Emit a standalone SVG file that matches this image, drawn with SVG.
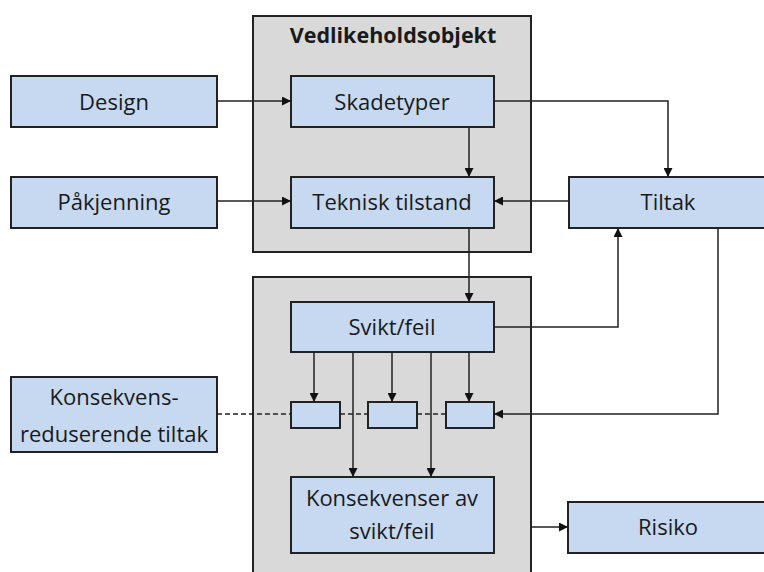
<svg xmlns="http://www.w3.org/2000/svg" width="764" height="572" viewBox="0 0 764 572">
<defs>
<marker id="ah" viewBox="0 0 10 10" refX="10" refY="5" markerWidth="9" markerHeight="9" markerUnits="userSpaceOnUse" orient="auto">
<path d="M0,0 L10,5 L0,10 z" fill="#111"/>
</marker>
<style>
.grp{fill:#d9d9d9;stroke:#222;stroke-width:2}
.nd{fill:#c6d9f1;stroke:#222;stroke-width:2}
.t{font-family:"Open Sans","Liberation Sans",sans-serif;font-size:22px;fill:#1a1a1a;text-anchor:middle}
.tb{font-weight:bold;font-size:21.5px}
.c{fill:none;stroke:#222;stroke-width:1.5}
.ca{marker-end:url(#ah)}
.d{stroke-dasharray:5,3}
</style>
</defs>
<g id="vedlikeholdsobjekt">
<rect class="grp" x="253" y="16" width="278" height="236"/>
<text class="t tb" x="393" y="43">Vedlikeholdsobjekt</text>
</g>
<g id="group2">
<rect class="grp" x="253" y="277" width="278" height="310"/>
</g>
<g id="design"><rect class="nd" x="11" y="76" width="206" height="51"/><text class="t" x="114" y="110">Design</text></g>
<g id="pakjenning"><rect class="nd" x="11" y="177" width="206" height="51"/><text class="t" x="114" y="210">Påkjenning</text></g>
<g id="skadetyper"><rect class="nd" x="291" y="76" width="203" height="51"/><text class="t" x="392" y="110">Skadetyper</text></g>
<g id="teknisk"><rect class="nd" x="291" y="177" width="203" height="51"/><text class="t" x="392" y="210">Teknisk tilstand</text></g>
<g id="tiltak"><rect class="nd" x="569" y="177" width="205" height="51"/><text class="t" x="668" y="210">Tiltak</text></g>
<g id="svikt"><rect class="nd" x="291" y="302" width="203" height="50"/><text class="t" x="392" y="335">Svikt/feil</text></g>
<g id="kons-tiltak"><rect class="nd" x="11" y="377" width="206" height="75"/><text class="t" x="114" y="405">Konsekvens-</text><text class="t" x="114" y="442">reduserende tiltak</text></g>
<g id="b1"><rect class="nd" x="291" y="402" width="49" height="26"/></g>
<g id="b2"><rect class="nd" x="368" y="402" width="49" height="26"/></g>
<g id="b3"><rect class="nd" x="446" y="402" width="48" height="26"/></g>
<g id="konsekvenser"><rect class="nd" x="291" y="477" width="203" height="76"/><text class="t" x="392" y="506">Konsekvenser av</text><text class="t" x="392" y="539">svikt/feil</text></g>
<g id="risiko"><rect class="nd" x="568" y="502" width="206" height="51"/><text class="t" x="668" y="535">Risiko</text></g>
<g id="connectors">
<path class="c ca" d="M217,101 H291"/>
<path class="c ca" d="M217,201 H291"/>
<path class="c ca" d="M469,127 V177"/>
<path class="c ca" d="M494,101 H668 V177"/>
<path class="c ca" d="M569,201 H494"/>
<path class="c ca" d="M469,228 V302"/>
<path class="c ca" d="M494,327 H618 V228"/>
<path class="c ca" d="M718,228 V414 H494"/>
<path class="c ca" d="M314,352 V402"/>
<path class="c ca" d="M392,352 V402"/>
<path class="c ca" d="M469,352 V402"/>
<path class="c ca" d="M353,352 V477"/>
<path class="c ca" d="M431,352 V477"/>
<path class="c d" d="M217,414 H291 M340,414 H368 M417,414 H446"/>
<path class="c ca" d="M531,527 H568"/>
</g>
</svg>
